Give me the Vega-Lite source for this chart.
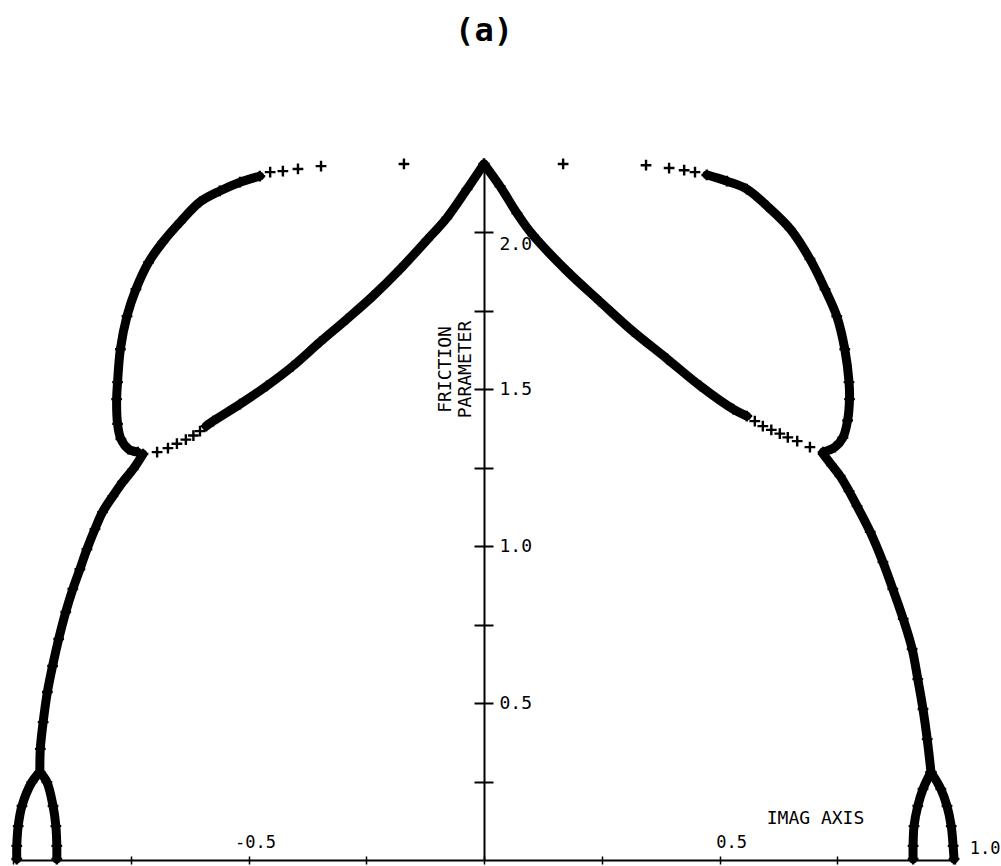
{
  "$schema": "https://vega.github.io/schema/vega-lite/v6.json",
  "width": 942,
  "height": 697,
  "autosize": {"type": "none"},
  "padding": {"left": 13, "top": 163, "right": 46, "bottom": 6},
  "background": "white",
  "config": {"view": {"stroke": null}, "font": "DejaVu Sans Mono"},
  "title": {
    "text": "(a)",
    "font": "DejaVu Sans Mono",
    "fontSize": 32,
    "fontWeight": "bold",
    "color": "black",
    "anchor": "middle",
    "baseline": "alphabetic",
    "offset": 81
  },
  "data": {
    "values": [
      {"trace": "inner-L", "step": "fine", "imag": 0.0, "friction": 2.217},
      {"trace": "inner-L", "step": "fine", "imag": -0.036, "friction": 2.137},
      {"trace": "inner-L", "step": "fine", "imag": -0.079, "friction": 2.045},
      {"trace": "inner-L", "step": "fine", "imag": -0.121, "friction": 1.975},
      {"trace": "inner-L", "step": "fine", "imag": -0.178, "friction": 1.882},
      {"trace": "inner-L", "step": "fine", "imag": -0.236, "friction": 1.796},
      {"trace": "inner-L", "step": "fine", "imag": -0.291, "friction": 1.723},
      {"trace": "inner-L", "step": "fine", "imag": -0.348, "friction": 1.65},
      {"trace": "inner-L", "step": "fine", "imag": -0.406, "friction": 1.573},
      {"trace": "inner-L", "step": "fine", "imag": -0.461, "friction": 1.51},
      {"trace": "inner-L", "step": "fine", "imag": -0.518, "friction": 1.452},
      {"trace": "inner-L", "step": "fine", "imag": -0.575, "friction": 1.398},
      {"trace": "inner-L", "step": "fine", "imag": -0.59, "friction": 1.382},
      {"trace": "inner-L-tail", "step": "coarse", "imag": -0.603, "friction": 1.366},
      {"trace": "inner-L-tail", "step": "coarse", "imag": -0.617, "friction": 1.352},
      {"trace": "inner-L-tail", "step": "coarse", "imag": -0.633, "friction": 1.339},
      {"trace": "inner-L-tail", "step": "coarse", "imag": -0.652, "friction": 1.326},
      {"trace": "inner-L-tail", "step": "coarse", "imag": -0.671, "friction": 1.312},
      {"trace": "inner-L-tail", "step": "coarse", "imag": -0.694, "friction": 1.299},

      {"trace": "outer-L", "step": "fine", "imag": -0.735, "friction": 1.299},
      {"trace": "outer-L", "step": "fine", "imag": -0.755, "friction": 1.309},
      {"trace": "outer-L", "step": "fine", "imag": -0.771, "friction": 1.341},
      {"trace": "outer-L", "step": "fine", "imag": -0.778, "friction": 1.389},
      {"trace": "outer-L", "step": "fine", "imag": -0.78, "friction": 1.468},
      {"trace": "outer-L", "step": "fine", "imag": -0.778, "friction": 1.522},
      {"trace": "outer-L", "step": "fine", "imag": -0.772, "friction": 1.627},
      {"trace": "outer-L", "step": "fine", "imag": -0.758, "friction": 1.732},
      {"trace": "outer-L", "step": "fine", "imag": -0.739, "friction": 1.818},
      {"trace": "outer-L", "step": "fine", "imag": -0.712, "friction": 1.904},
      {"trace": "outer-L", "step": "fine", "imag": -0.682, "friction": 1.968},
      {"trace": "outer-L", "step": "fine", "imag": -0.645, "friction": 2.032},
      {"trace": "outer-L", "step": "fine", "imag": -0.603, "friction": 2.096},
      {"trace": "outer-L", "step": "fine", "imag": -0.561, "friction": 2.131},
      {"trace": "outer-L", "step": "fine", "imag": -0.518, "friction": 2.159},
      {"trace": "outer-L", "step": "fine", "imag": -0.476, "friction": 2.178},
      {"trace": "outer-L-tail", "step": "coarse", "imag": -0.454, "friction": 2.191},
      {"trace": "outer-L-tail", "step": "coarse", "imag": -0.427, "friction": 2.194},
      {"trace": "outer-L-tail", "step": "coarse", "imag": -0.395, "friction": 2.201},
      {"trace": "outer-L-tail", "step": "coarse", "imag": -0.346, "friction": 2.21},
      {"trace": "outer-L-tail", "step": "coarse", "imag": -0.17, "friction": 2.217},

      {"trace": "lower-L", "step": "fine", "imag": -0.724, "friction": 1.293},
      {"trace": "lower-L", "step": "fine", "imag": -0.745, "friction": 1.245},
      {"trace": "lower-L", "step": "fine", "imag": -0.767, "friction": 1.204},
      {"trace": "lower-L", "step": "fine", "imag": -0.788, "friction": 1.159},
      {"trace": "lower-L", "step": "fine", "imag": -0.81, "friction": 1.108},
      {"trace": "lower-L", "step": "fine", "imag": -0.826, "friction": 1.054},
      {"trace": "lower-L", "step": "fine", "imag": -0.843, "friction": 0.99},
      {"trace": "lower-L", "step": "fine", "imag": -0.858, "friction": 0.926},
      {"trace": "lower-L", "step": "fine", "imag": -0.873, "friction": 0.863},
      {"trace": "lower-L", "step": "fine", "imag": -0.888, "friction": 0.79},
      {"trace": "lower-L", "step": "fine", "imag": -0.903, "friction": 0.704},
      {"trace": "lower-L", "step": "fine", "imag": -0.916, "friction": 0.618},
      {"trace": "lower-L", "step": "fine", "imag": -0.927, "friction": 0.535},
      {"trace": "lower-L", "step": "fine", "imag": -0.936, "friction": 0.439},
      {"trace": "lower-L", "step": "fine", "imag": -0.942, "friction": 0.354},
      {"trace": "lower-L", "step": "fine", "imag": -0.943, "friction": 0.28},

      {"trace": "foot-L-out", "step": "fine", "imag": -0.943, "friction": 0.28},
      {"trace": "foot-L-out", "step": "fine", "imag": -0.96, "friction": 0.248},
      {"trace": "foot-L-out", "step": "fine", "imag": -0.981, "friction": 0.172},
      {"trace": "foot-L-out", "step": "fine", "imag": -0.989, "friction": 0.108},
      {"trace": "foot-L-out", "step": "fine", "imag": -0.992, "friction": 0.045},
      {"trace": "foot-L-out", "step": "fine", "imag": -0.992, "friction": 0.003},
      {"trace": "foot-L-in", "step": "fine", "imag": -0.943, "friction": 0.28},
      {"trace": "foot-L-in", "step": "fine", "imag": -0.928, "friction": 0.248},
      {"trace": "foot-L-in", "step": "fine", "imag": -0.915, "friction": 0.172},
      {"trace": "foot-L-in", "step": "fine", "imag": -0.909, "friction": 0.108},
      {"trace": "foot-L-in", "step": "fine", "imag": -0.907, "friction": 0.045},
      {"trace": "foot-L-in", "step": "fine", "imag": -0.907, "friction": 0.003},

      {"trace": "inner-R", "step": "fine", "imag": 0.0, "friction": 2.217},
      {"trace": "inner-R", "step": "fine", "imag": 0.034, "friction": 2.146},
      {"trace": "inner-R", "step": "fine", "imag": 0.07, "friction": 2.06},
      {"trace": "inner-R", "step": "fine", "imag": 0.104, "friction": 1.99},
      {"trace": "inner-R", "step": "fine", "imag": 0.176, "friction": 1.876},
      {"trace": "inner-R", "step": "fine", "imag": 0.246, "friction": 1.779},
      {"trace": "inner-R", "step": "fine", "imag": 0.316, "friction": 1.684},
      {"trace": "inner-R", "step": "fine", "imag": 0.389, "friction": 1.596},
      {"trace": "inner-R", "step": "fine", "imag": 0.459, "friction": 1.51},
      {"trace": "inner-R", "step": "fine", "imag": 0.529, "friction": 1.436},
      {"trace": "inner-R", "step": "fine", "imag": 0.558, "friction": 1.414},
      {"trace": "inner-R-tail", "step": "coarse", "imag": 0.575, "friction": 1.398},
      {"trace": "inner-R-tail", "step": "coarse", "imag": 0.592, "friction": 1.382},
      {"trace": "inner-R-tail", "step": "coarse", "imag": 0.61, "friction": 1.37},
      {"trace": "inner-R-tail", "step": "coarse", "imag": 0.628, "friction": 1.358},
      {"trace": "inner-R-tail", "step": "coarse", "imag": 0.645, "friction": 1.346},
      {"trace": "inner-R-tail", "step": "coarse", "imag": 0.665, "friction": 1.334},
      {"trace": "inner-R-tail", "step": "coarse", "imag": 0.692, "friction": 1.315},

      {"trace": "outer-R", "step": "fine", "imag": 0.72, "friction": 1.299},
      {"trace": "outer-R", "step": "fine", "imag": 0.745, "friction": 1.315},
      {"trace": "outer-R", "step": "fine", "imag": 0.762, "friction": 1.345},
      {"trace": "outer-R", "step": "fine", "imag": 0.772, "friction": 1.4},
      {"trace": "outer-R", "step": "fine", "imag": 0.776, "friction": 1.468},
      {"trace": "outer-R", "step": "fine", "imag": 0.775, "friction": 1.522},
      {"trace": "outer-R", "step": "fine", "imag": 0.766, "friction": 1.627},
      {"trace": "outer-R", "step": "fine", "imag": 0.749, "friction": 1.732},
      {"trace": "outer-R", "step": "fine", "imag": 0.724, "friction": 1.818},
      {"trace": "outer-R", "step": "fine", "imag": 0.692, "friction": 1.914},
      {"trace": "outer-R", "step": "fine", "imag": 0.65, "friction": 2.01},
      {"trace": "outer-R", "step": "fine", "imag": 0.601, "friction": 2.083},
      {"trace": "outer-R", "step": "fine", "imag": 0.558, "friction": 2.137},
      {"trace": "outer-R", "step": "fine", "imag": 0.516, "friction": 2.162},
      {"trace": "outer-R", "step": "fine", "imag": 0.473, "friction": 2.182},
      {"trace": "outer-R-tail", "step": "coarse", "imag": 0.448, "friction": 2.191},
      {"trace": "outer-R-tail", "step": "coarse", "imag": 0.425, "friction": 2.197},
      {"trace": "outer-R-tail", "step": "coarse", "imag": 0.393, "friction": 2.204},
      {"trace": "outer-R-tail", "step": "coarse", "imag": 0.344, "friction": 2.213},
      {"trace": "outer-R-tail", "step": "coarse", "imag": 0.168, "friction": 2.217},

      {"trace": "lower-R", "step": "fine", "imag": 0.72, "friction": 1.293},
      {"trace": "lower-R", "step": "fine", "imag": 0.738, "friction": 1.258},
      {"trace": "lower-R", "step": "fine", "imag": 0.756, "friction": 1.223},
      {"trace": "lower-R", "step": "fine", "imag": 0.775, "friction": 1.175},
      {"trace": "lower-R", "step": "fine", "imag": 0.792, "friction": 1.127},
      {"trace": "lower-R", "step": "fine", "imag": 0.82, "friction": 1.045},
      {"trace": "lower-R", "step": "fine", "imag": 0.847, "friction": 0.949},
      {"trace": "lower-R", "step": "fine", "imag": 0.868, "friction": 0.863},
      {"trace": "lower-R", "step": "fine", "imag": 0.89, "friction": 0.768},
      {"trace": "lower-R", "step": "fine", "imag": 0.909, "friction": 0.672},
      {"trace": "lower-R", "step": "fine", "imag": 0.921, "friction": 0.576},
      {"trace": "lower-R", "step": "fine", "imag": 0.932, "friction": 0.481},
      {"trace": "lower-R", "step": "fine", "imag": 0.941, "friction": 0.385},
      {"trace": "lower-R", "step": "fine", "imag": 0.949, "friction": 0.28},

      {"trace": "foot-R-in", "step": "fine", "imag": 0.949, "friction": 0.28},
      {"trace": "foot-R-in", "step": "fine", "imag": 0.932, "friction": 0.226},
      {"trace": "foot-R-in", "step": "fine", "imag": 0.921, "friction": 0.172},
      {"trace": "foot-R-in", "step": "fine", "imag": 0.913, "friction": 0.108},
      {"trace": "foot-R-in", "step": "fine", "imag": 0.911, "friction": 0.045},
      {"trace": "foot-R-in", "step": "fine", "imag": 0.911, "friction": 0.003},
      {"trace": "foot-R-out", "step": "fine", "imag": 0.949, "friction": 0.28},
      {"trace": "foot-R-out", "step": "fine", "imag": 0.97, "friction": 0.226},
      {"trace": "foot-R-out", "step": "fine", "imag": 0.983, "friction": 0.172},
      {"trace": "foot-R-out", "step": "fine", "imag": 0.992, "friction": 0.108},
      {"trace": "foot-R-out", "step": "fine", "imag": 0.996, "friction": 0.045},
      {"trace": "foot-R-out", "step": "fine", "imag": 0.998, "friction": 0.003}
    ]
  },
  "layer": [
    {
      "transform": [{"filter": "datum.step == 'fine'"}],
      "mark": {"type": "line", "color": "black", "strokeWidth": 9, "strokeCap": "round", "strokeJoin": "round", "interpolate": "catmull-rom"},
      "encoding": {
        "x": {
          "field": "imag",
          "type": "quantitative",
          "scale": {"domain": [-1, 1], "nice": false, "zero": false},
          "axis": {
            "orient": "top",
            "offset": -697,
            "values": [-1, -0.75, -0.5, -0.25, 0, 0.25, 0.5, 0.75, 1],
            "grid": false,
            "domain": false,
            "tickSize": 4,
            "tickWidth": 1.5,
            "tickColor": "black",
            "labelExpr": "datum.value == -0.5 ? '-0.5' : datum.value == 0.5 ? '0.5' : datum.value == 1 ? '1.0' : ''",
            "labelFont": "DejaVu Sans Mono",
            "labelFontSize": 17,
            "labelColor": "black",
            "labelAlign": "right",
            "labelBaseline": "alphabetic",
            "labelOffset": {"condition": {"test": "datum.value == 1", "value": 45}, "value": 27},
            "labelPadding": {"condition": {"test": "datum.value == 1", "value": 3}, "value": 9},
            "labelFlush": false,
            "labelOverlap": false,
            "labelBound": false,
            "title": "IMAG AXIS",
            "titleFont": "DejaVu Sans Mono",
            "titleFontSize": 18,
            "titleFontWeight": "normal",
            "titleColor": "black",
            "titleAngle": 0,
            "titleAlign": "center",
            "titleBaseline": "alphabetic",
            "titleX": 802,
            "titleY": -37
          }
        },
        "y": {
          "field": "friction",
          "type": "quantitative",
          "scale": {"domain": [0, 2.22], "nice": false},
          "axis": {
            "orient": "right",
            "offset": -471,
            "values": [0.25, 0.5, 0.75, 1, 1.25, 1.5, 1.75, 2],
            "grid": false,
            "domain": true,
            "domainColor": "black",
            "domainWidth": 2,
            "tickSize": 9,
            "tickWidth": 2,
            "tickColor": "black",
            "labelExpr": "datum.value == 0.5 || datum.value == 1 || datum.value == 1.5 || datum.value == 2 ? format(datum.value, '.1f') : ''",
            "labelFont": "DejaVu Sans Mono",
            "labelFontSize": 18,
            "labelColor": "black",
            "labelAlign": "left",
            "labelBaseline": "middle",
            "labelPadding": 6,
            "labelOffset": {"condition": {"test": "datum.value == 2", "value": 12}, "value": 0},
            "labelFlush": false,
            "labelOverlap": false,
            "labelBound": false,
            "title": ["FRICTION", "PARAMETER"],
            "titleFont": "DejaVu Sans Mono",
            "titleFontSize": 18,
            "titleFontWeight": "normal",
            "titleColor": "black",
            "titleAngle": -90,
            "titleAlign": "center",
            "titleBaseline": "middle",
            "titleLineHeight": 20,
            "titleX": -39,
            "titleY": 206
          }
        },
        "detail": {"field": "trace"},
        "order": {"value": null}
      }
    },
    {
      "mark": {"type": "point", "shape": "M-1,0H1M0,-1V1", "size": 115, "filled": false, "stroke": "black", "strokeWidth": 2.4, "opacity": 1},
      "encoding": {
        "x": {
          "field": "imag",
          "type": "quantitative",
          "axis": {
            "orient": "bottom",
            "values": [-1, -0.75, -0.5, -0.25, 0, 0.25, 0.5, 0.75, 1],
            "grid": false,
            "domain": true,
            "domainColor": "black",
            "domainWidth": 2,
            "tickSize": 4,
            "tickWidth": 1.5,
            "tickColor": "black",
            "labels": false,
            "title": null
          }
        },
        "y": {
          "field": "friction",
          "type": "quantitative",
          "axis": {
            "orient": "left",
            "offset": -471,
            "values": [0.25, 0.5, 0.75, 1, 1.25, 1.5, 1.75, 2],
            "grid": false,
            "domain": false,
            "tickSize": 10,
            "tickWidth": 2,
            "tickColor": "black",
            "labels": false,
            "title": null
          }
        }
      }
    }
  ],
  "resolve": {"axis": {"x": "independent", "y": "independent"}}
}
